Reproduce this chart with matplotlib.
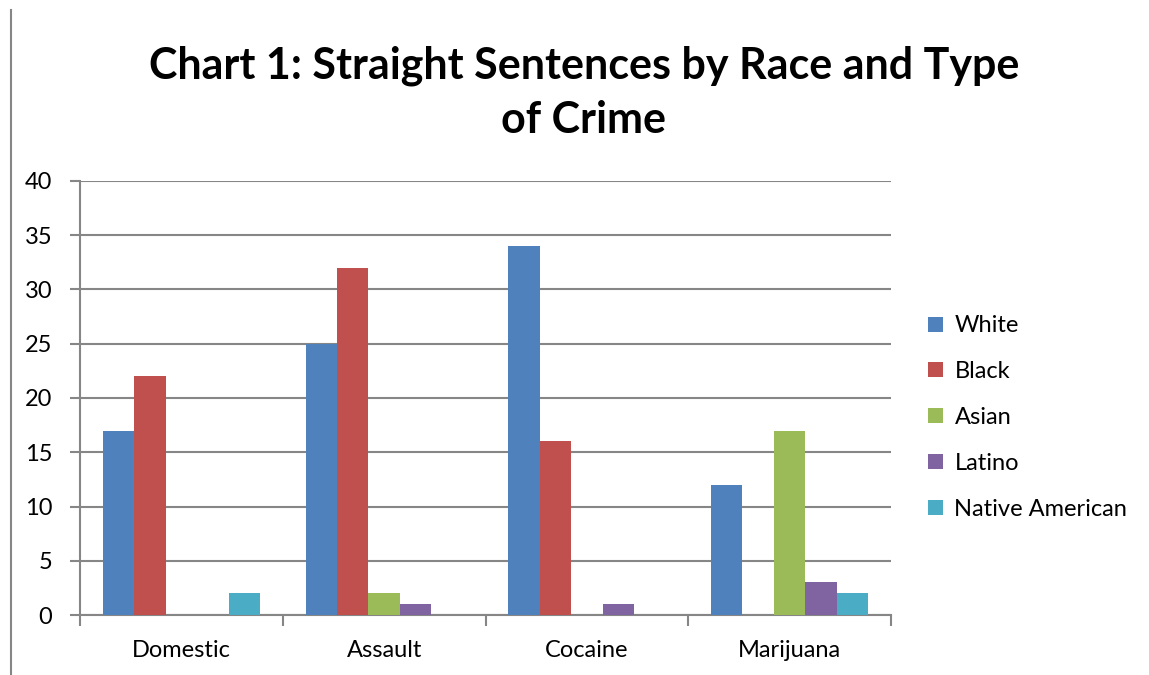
import matplotlib
matplotlib.use("Agg")
import matplotlib.pyplot as plt
import numpy as np

plt.rcParams['font.family'] = ['Lato', 'DejaVu Sans']

crimes = ["Domestic", "Assault", "Cocaine", "Marijuana"]
races = ["White", "Black", "Asian", "Latino", "Native American"]
white = [17, 25, 34, 12]
black = [22, 32, 16, 0]
asian = [0, 2, 0, 17]
latino = [0, 1, 1, 3]
native = [2, 0, 0, 2]
yticks = [0, 5, 10, 15, 20, 25, 30, 35, 40]

colors = ['#4F81BD', '#C0504D', '#9BBB59', '#8064A2', '#4BACC6']
series = [white, black, asian, latino, native]

fig = plt.figure(figsize=(11.49, 6.75), dpi=100)
ax = fig.add_axes([80/1149, 1-615/675, (891-80)/1149, (615-181)/675])

x = np.arange(len(crimes))
w = 0.155
for i, vals in enumerate(series):
    ax.bar(x + (i - 2) * w, vals, w, color=colors[i], label=races[i], zorder=3)

ax.set_xlim(-0.5, 3.5)
ax.set_ylim(0, 40)
ax.set_yticks(yticks)
ax.set_yticklabels([str(t) for t in yticks], fontsize=17)
ax.yaxis.grid(True, color='#868686', linewidth=1.5, zorder=0)

# category labels centred, tick marks on the category boundaries
ax.set_xticks(x)
ax.set_xticklabels(crimes, fontsize=17)
ax.tick_params(axis='x', length=0, pad=18)
ax.set_xticks(np.arange(-0.5, 4.0, 1.0), minor=True)
ax.tick_params(axis='x', which='minor', length=8, width=1.5, color='#868686', direction='out')
ax.tick_params(axis='y', length=7, width=1.5, color='#868686', pad=13)

for s in ['top', 'right']:
    ax.spines[s].set_visible(False)
for s in ['left', 'bottom']:
    ax.spines[s].set_color('#868686')
    ax.spines[s].set_linewidth(1.5)

fig.text(0.508, 1-93/675, "Chart 1: Straight Sentences by Race and Type\nof Crime",
         ha='center', va='center', fontsize=31, fontweight='bold', linespacing=1.42)

leg = ax.legend(loc='center left', bbox_to_anchor=(1.02, 0.455), frameon=False,
                fontsize=17, handlelength=0.6, handleheight=0.6, labelspacing=1.05,
                handletextpad=0.5)

# page border line on the left
fig.add_artist(plt.Line2D([11/1149, 11/1149], [0, 1-10/675], color='#868686', linewidth=1.5))

fig.savefig("out.png", dpi=100)
